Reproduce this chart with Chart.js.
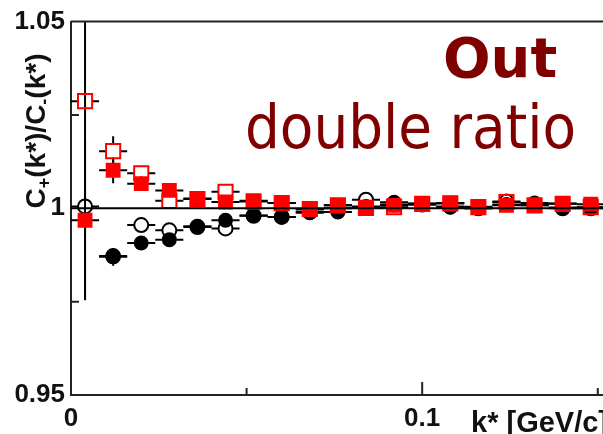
<!DOCTYPE html>
<html>
<head>
<meta charset="utf-8">
<script src="https://cdn.jsdelivr.net/npm/chart.js@4"></script>
<style>
  html, body { margin: 0; padding: 0; background: #fff; overflow: hidden; }
  #wrap { width: 603px; height: 434px; overflow: hidden; position: relative; }
</style>
</head>
<body>
<div id="wrap"><canvas id="myChart" width="680" height="434"></canvas></div>
<script>
// k* bin centres [GeV/c]
const kStar = [0.004, 0.012, 0.020, 0.028, 0.036, 0.044, 0.052, 0.060, 0.068, 0.076,
               0.084, 0.092, 0.100, 0.108, 0.116, 0.124, 0.132, 0.140, 0.148];
const kHalfWidth = 0.004;

// double ratio C+/C-
const redOpen     = [1.0287, 1.0153, 1.0094, 1.0020, 1.0025, 1.0044, 1.0018, 1.0014, 0.9998, 1.0008,
                     1.0001, 1.0003, 1.0012, 1.0013, 1.0003, 1.0017, 1.0008, 1.0012, 1.0003];
const redFilled   = [0.9968, 1.0102, 1.0066, 1.0048, 1.0026, 1.0017, 1.0020, 1.0014, 0.9997, 1.0008,
                     1.0001, 1.0008, 1.0013, 1.0014, 1.0004, 1.0008, 1.0008, 1.0013, 1.0011];
const blackFilled = [null,   0.9870, 0.9907, 0.9916, 0.9952, 0.9968, 0.9981, 0.9977, 0.9988, 0.9990,
                     1.0005, 1.0016, 1.0010, 1.0003, 1.0000, 1.0010, 1.0014, 1.0002, 1.0002];
const blackOpen   = [1.0005, 0.9872, 0.9955, 0.9941, 0.9950, 0.9946, 0.9980, 0.9977, 0.9990, 1.0000,
                     1.0023, 1.0010, 1.0010, 1.0005, 1.0000, 1.0018, 1.0010, 1.0000, 1.0000];

// vertical errors
const redOpenErr     = [0.001, 0.004, 0.002, 0.001, 0.001, 0.001, 0.001, 0.001, 0.001, 0.001,
                        0.001, 0.001, 0.001, 0.001, 0.001, 0.001, 0.001, 0.001, 0.001];
const redFilledErr   = [0.0214, 0.0035, 0.002, 0.001, 0.001, 0.001, 0.001, 0.001, 0.001, 0.001,
                        0.001, 0.001, 0.001, 0.001, 0.001, 0.001, 0.001, 0.001, 0.001];
const blackFilledErr = [0, 0.0024, 0.0015, 0.001, 0.001, 0.001, 0.001, 0.001, 0.001, 0.001,
                        0.001, 0.001, 0.001, 0.001, 0.001, 0.001, 0.001, 0.001, 0.001];
const blackOpenErrLo = [0.025, 0.001, 0.001, 0.001, 0.001, 0.001, 0.001, 0.001, 0.001, 0.001,
                        0.001, 0.001, 0.001, 0.001, 0.001, 0.001, 0.001, 0.001, 0.001];
const blackOpenErrHi = [0.06, 0.001, 0.001, 0.001, 0.001, 0.001, 0.001, 0.001, 0.001, 0.001,
                        0.001, 0.001, 0.001, 0.001, 0.001, 0.001, 0.001, 0.001, 0.001];

const xTicks = [0, 0.1];
const yTicks = [0.95, 1, 1.05];
const xMinorTicks = [0.05, 0.15];
const yMinorTicks = [0.975, 1.025];

const tickFont = { family: 'Liberation Sans', weight: 'bold', size: 26 };

function points(vals, lo, hi) {
    const out = [];
    vals.forEach((v, i) => {
        if (v === null) return;
        out.push({ x: kStar[i], y: v, lo: lo[i], hi: hi[i] });
    });
    return out;
}

const errorBars = {
    id: 'errorBars',
    beforeDatasetsDraw(chart) {
        const { ctx, chartArea, scales } = chart;
        ctx.save();
        ctx.beginPath();
        ctx.rect(chartArea.left, chartArea.top, chartArea.right - chartArea.left, chartArea.bottom - chartArea.top);
        ctx.clip();
        ctx.strokeStyle = '#000';
        ctx.lineWidth = 2;
        chart.data.datasets.forEach(ds => {
            const g = ds.gap;
            ds.data.forEach(p => {
                const px = scales.x.getPixelForValue(p.x);
                const py = scales.y.getPixelForValue(p.y);
                ctx.beginPath();
                // horizontal bar, broken around the marker
                ctx.moveTo(scales.x.getPixelForValue(p.x - kHalfWidth), py);
                ctx.lineTo(px - g, py);
                ctx.moveTo(px + g, py);
                ctx.lineTo(scales.x.getPixelForValue(p.x + kHalfWidth), py);
                const yTop = scales.y.getPixelForValue(p.y + p.hi);
                const yBot = scales.y.getPixelForValue(p.y - p.lo);
                if (yTop < py - g) {
                    ctx.moveTo(px, yTop);
                    ctx.lineTo(px, py - g);
                }
                if (yBot > py + g) {
                    ctx.moveTo(px, py + g);
                    ctx.lineTo(px, yBot);
                }
                ctx.stroke();
            });
        });
        ctx.restore();
    },
    afterDatasetsDraw(chart) {
        const { ctx, chartArea, scales } = chart;
        ctx.save();
        ctx.strokeStyle = '#000';
        ctx.lineWidth = 2;
        // line at 1
        const y1 = scales.y.getPixelForValue(1);
        ctx.beginPath();
        ctx.moveTo(chartArea.left, y1);
        ctx.lineTo(chartArea.right, y1);
        ctx.stroke();
        // frame top
        ctx.strokeStyle = '#222';
        ctx.beginPath();
        ctx.moveTo(chartArea.left, chartArea.top);
        ctx.lineTo(chartArea.right, chartArea.top);
        ctx.stroke();
        // inward ticks
        ctx.beginPath();
        yMinorTicks.forEach(v => {
            const y = scales.y.getPixelForValue(v);
            ctx.moveTo(chartArea.left, y);
            ctx.lineTo(chartArea.left + 8, y);
        });
        xTicks.forEach(v => {
            const x = scales.x.getPixelForValue(v);
            ctx.moveTo(x, chartArea.bottom);
            ctx.lineTo(x, chartArea.bottom - 13);
        });
        xMinorTicks.forEach(v => {
            const x = scales.x.getPixelForValue(v);
            ctx.moveTo(x, chartArea.bottom);
            ctx.lineTo(x, chartArea.bottom - 7);
        });
        ctx.stroke();
        ctx.restore();
    },
    afterDraw(chart) {
        const { ctx } = chart;
        ctx.save();
        // y axis title with subscripts
        const main = 'bold 28px "Liberation Sans"';
        const sub = 'bold 18px "Liberation Sans"';
        const parts = [['C', main, 0], ['+', sub, 8], ['(k*)/C', main, 0], ['-', sub, 8], ['(k*)', main, 0]];
        let total = 0;
        parts.forEach(p => { ctx.font = p[1]; total += ctx.measureText(p[0]).width; });
        ctx.translate(37, 131);
        ctx.rotate(-Math.PI / 2);
        ctx.fillStyle = '#111';
        ctx.textBaseline = 'middle';
        let x = -total / 2;
        parts.forEach(p => {
            ctx.font = p[1];
            ctx.fillText(p[0], x, p[2]);
            x += ctx.measureText(p[0]).width;
        });
        ctx.restore();

        ctx.save();
        ctx.fillStyle = '#111';
        ctx.font = 'bold 29px "Liberation Sans"';
        ctx.textBaseline = 'alphabetic';
        ctx.fillText('k* [GeV/c]', 471, 432);
        // labels
        ctx.fillStyle = '#800000';
        ctx.font = 'bold 56px "DejaVu Sans"';
        ctx.fillText('Out', 443, 77);
        ctx.font = '61px "DejaVu Sans Condensed", "DejaVu Sans"';
        ctx.fillText('double ratio', 245, 148);
        ctx.restore();
    }
};

new Chart(document.getElementById('myChart'), {
    type: 'scatter',
    data: {
        datasets: [
            {
                label: 'red filled',
                data: points(redFilled, redFilledErr, redFilledErr),
                pointStyle: 'rect', pointRadius: 10.5, pointHoverRadius: 10.5,
                backgroundColor: '#ff0000', borderColor: '#ff0000', borderWidth: 0,
                gap: 7, order: 1
            },
            {
                label: 'red open',
                data: points(redOpen, redOpenErr, redOpenErr),
                pointStyle: 'rect', pointRadius: 10, pointHoverRadius: 10,
                backgroundColor: 'rgba(255,255,255,0)', borderColor: '#ff0000', pointBorderWidth: 2,
                gap: 7, order: 2
            },
            {
                label: 'black filled',
                data: points(blackFilled, blackFilledErr, blackFilledErr),
                pointStyle: 'circle', pointRadius: 7.5, pointHoverRadius: 7.5,
                backgroundColor: '#000', borderColor: '#000', borderWidth: 0,
                gap: 7, order: 3
            },
            {
                label: 'black open',
                data: points(blackOpen, blackOpenErrLo, blackOpenErrHi),
                pointStyle: 'circle', pointRadius: 7, pointHoverRadius: 7,
                backgroundColor: 'rgba(255,255,255,0)', borderColor: '#000', pointBorderWidth: 2,
                gap: 7, order: 4
            }
        ]
    },
    options: {
        responsive: false,
        animation: false,
        layout: { padding: { left: 0, top: 21, right: 9, bottom: 0 } },
        plugins: { legend: { display: false }, tooltip: { enabled: false } },
        scales: {
            x: {
                type: 'linear', min: 0, max: 0.17,
                grid: { display: false, drawTicks: false },
                border: { display: true, color: '#222', width: 2 },
                ticks: { font: tickFont, color: '#111', padding: 8, maxRotation: 0,
                         callback: v => String(Number(v.toFixed(3))) },
                afterBuildTicks: s => { s.ticks = xTicks.map(v => ({ value: v })); },
                afterFit: s => { s.height = 39; }
            },
            y: {
                type: 'linear', min: 0.95, max: 1.05,
                grid: { display: false, drawTicks: false },
                border: { display: true, color: '#222', width: 2 },
                ticks: { font: tickFont, color: '#111', padding: 6,
                         callback: v => String(Number(v.toFixed(3))) },
                afterBuildTicks: s => { s.ticks = yTicks.map(v => ({ value: v })); },
                afterFit: s => { s.width = 71; }
            }
        }
    },
    plugins: [errorBars]
});
</script>
</body>
</html>
